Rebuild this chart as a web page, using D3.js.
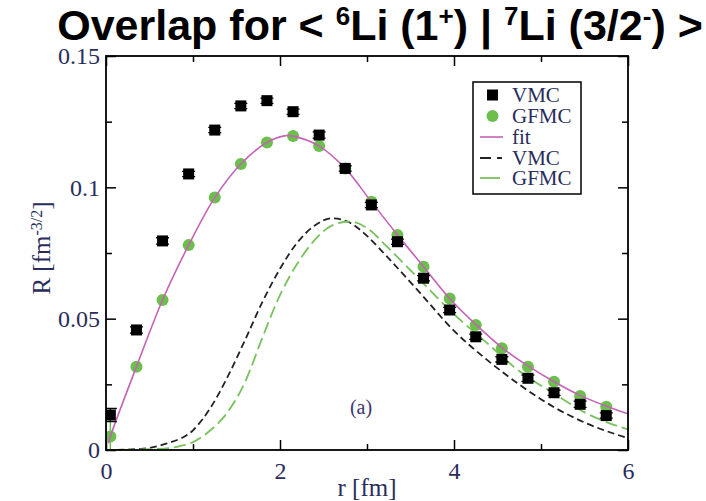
<!DOCTYPE html>
<html>
<head>
<meta charset="utf-8">
<script src="https://cdn.jsdelivr.net/npm/d3@7"></script>
<style>
  body { margin: 0; background: #fff; }
  text { font-family: "Liberation Serif", "DejaVu Serif", serif; }
</style>
</head>
<body>
<script>
// r values (fm) of the sampled points
var rPts = [0.05, 0.35, 0.65, 0.95, 1.25, 1.55, 1.85, 2.15, 2.45, 2.75, 3.05, 3.35, 3.65, 3.95, 4.25, 4.55, 4.85, 5.15, 5.45, 5.75];
var vmcPts = [0.0133, 0.0457, 0.0796, 0.1051, 0.1218, 0.131, 0.133, 0.1288, 0.1199, 0.1072, 0.0933, 0.0793, 0.0654, 0.0533, 0.0431, 0.0345, 0.0273, 0.0218, 0.0174, 0.0131];
var vmcErr = [0.0025, 0.0012, 0.0012, 0.001, 0.001, 0.001, 0.001, 0.001, 0.0012, 0.001, 0.001, 0.001, 0.001, 0.001, 0.001, 0.001, 0.0012, 0.001, 0.0012, 0.001];
var gfmcPts = [0.0051, 0.0317, 0.0571, 0.078, 0.0961, 0.1089, 0.1171, 0.1195, 0.1157, 0.1072, 0.0945, 0.0819, 0.0698, 0.0577, 0.0476, 0.0387, 0.0317, 0.026, 0.0206, 0.0165];
var gfmcErr = [0.0065, 0.0015, 0.001, 0.001, 0.001, 0.001, 0.001, 0.001, 0.001, 0.001, 0.001, 0.001, 0.001, 0.001, 0.001, 0.001, 0.001, 0.001, 0.001, 0.001];

// fit curve
var fitR = [0.03, 0.05, 0.35, 0.65, 0.95, 1.25, 1.55, 1.85, 2.05, 2.15, 2.45, 2.75, 3.05, 3.35, 3.65, 3.95, 4.25, 4.55, 4.85, 5.15, 5.45, 5.75, 6.0];
var fitVal = [0.0025, 0.0051, 0.0317, 0.0571, 0.078, 0.0961, 0.1089, 0.1171, 0.1196, 0.1195, 0.1157, 0.1072, 0.0945, 0.0819, 0.0698, 0.0577, 0.0478, 0.039, 0.032, 0.026, 0.0208, 0.0167, 0.0138];

// dashed curves
var vmcCurveR = [0, 0.4, 0.7, 1.0, 1.2, 1.4, 1.6, 1.8, 2.0, 2.2, 2.4, 2.6, 2.8, 3.0, 3.23, 3.61, 3.99, 4.38, 4.76, 5.14, 5.52, 6.0];
var vmcCurveVal = [0, 0.0004, 0.0025, 0.0075, 0.016, 0.028, 0.042, 0.0565, 0.069, 0.079, 0.0855, 0.0882, 0.0866, 0.0815, 0.0736, 0.0598, 0.0457, 0.0343, 0.0247, 0.0165, 0.0102, 0.0045];
var gfmcCurveR = [0, 0.6, 0.85, 1.0, 1.2, 1.4, 1.6, 1.8, 2.0, 2.2, 2.4, 2.6, 2.8, 3.0, 3.23, 3.61, 3.99, 4.38, 4.76, 5.14, 5.52, 6.0];
var gfmcCurveVal = [0, 0.0004, 0.0015, 0.003, 0.0075, 0.0145, 0.026, 0.043, 0.059, 0.071, 0.08, 0.0855, 0.087, 0.0845, 0.0774, 0.0647, 0.052, 0.0407, 0.0298, 0.0217, 0.014, 0.0078];

var xMajor = [0, 2, 4, 6];
var xMinor = [1, 3, 5];
var yMajor = [0, 0.05, 0.1, 0.15];
var yMinor = [0.025, 0.075, 0.125];
var legendNames = ["VMC", "GFMC", "fit", "VMC", "GFMC"];

var W = 706, H = 501;
var pLeft = 106, pRight = 628, pTop = 56, pBottom = 450;
var labelColor = "#2a2d5c";
var green = "#6cbf4c";
var dgreen = "#78c25e";
var magenta = "#c462b6";

var svg = d3.select("body").append("svg")
    .attr("width", W)
    .attr("height", H);

svg.append("rect").attr("width", W).attr("height", H).attr("fill", "#fff");

var x = d3.scaleLinear().domain([0, 6]).range([pLeft, pRight]);
var y = d3.scaleLinear().domain([0, 0.15]).range([pBottom, pTop]);

// title
var title = svg.append("text")
    .attr("x", 380)
    .attr("y", 40)
    .attr("text-anchor", "middle")
    .style("font-family", "'Liberation Sans', Arial, sans-serif")
    .style("font-weight", "bold")
    .style("font-size", "43px")
    .attr("fill", "#000");
var supShift = "super";
title.append("tspan").text("Overlap for < ");
title.append("tspan").attr("baseline-shift", supShift).style("font-size", "26px").text("6");
title.append("tspan").text("Li (1");
title.append("tspan").attr("baseline-shift", supShift).style("font-size", "26px").text("+");
title.append("tspan").text(") | ");
title.append("tspan").attr("baseline-shift", supShift).style("font-size", "26px").text("7");
title.append("tspan").text("Li (3/2");
title.append("tspan").attr("baseline-shift", supShift).style("font-size", "26px").text("-");
title.append("tspan").text(") >");

// axes: major with labels, minor without, mirrored on top/right
function styleAxis(g) {
    g.select(".domain").remove();
    g.selectAll(".tick line").attr("stroke", "#000").attr("stroke-width", 1.5);
    g.selectAll(".tick text")
        .attr("fill", labelColor)
        .style("font-family", "'Liberation Serif', serif")
        .style("font-size", "24px");
}

svg.append("g")
    .attr("transform", "translate(0," + pBottom + ")")
    .call(d3.axisBottom(x).tickValues(xMajor).tickSize(-10).tickPadding(12).tickFormat(d3.format("d")))
    .call(styleAxis);
svg.append("g")
    .attr("transform", "translate(0," + pBottom + ")")
    .call(d3.axisBottom(x).tickValues(xMinor).tickSize(-6).tickFormat(""))
    .call(styleAxis);
svg.append("g")
    .attr("transform", "translate(0," + pTop + ")")
    .call(d3.axisTop(x).tickValues(xMajor).tickSize(-10).tickFormat(""))
    .call(styleAxis);
svg.append("g")
    .attr("transform", "translate(0," + pTop + ")")
    .call(d3.axisTop(x).tickValues(xMinor).tickSize(-6).tickFormat(""))
    .call(styleAxis);

svg.append("g")
    .attr("transform", "translate(" + pLeft + ",0)")
    .call(d3.axisLeft(y).tickValues(yMajor).tickSize(-10).tickPadding(6).tickFormat(function (d) { return String(d); }))
    .call(styleAxis);
svg.append("g")
    .attr("transform", "translate(" + pLeft + ",0)")
    .call(d3.axisLeft(y).tickValues(yMinor).tickSize(-6).tickFormat(""))
    .call(styleAxis);
svg.append("g")
    .attr("transform", "translate(" + pRight + ",0)")
    .call(d3.axisRight(y).tickValues(yMajor).tickSize(-10).tickFormat(""))
    .call(styleAxis);
svg.append("g")
    .attr("transform", "translate(" + pRight + ",0)")
    .call(d3.axisRight(y).tickValues(yMinor).tickSize(-6).tickFormat(""))
    .call(styleAxis);

// axis titles
svg.append("text")
    .attr("x", 367)
    .attr("y", 496)
    .attr("text-anchor", "middle")
    .attr("fill", labelColor)
    .style("font-size", "25px")
    .text("r [fm]");

var ylab = svg.append("text")
    .attr("transform", "translate(50,248) rotate(-90)")
    .attr("text-anchor", "middle")
    .attr("fill", labelColor)
    .style("font-size", "25px");
ylab.append("tspan").text("R [fm");
ylab.append("tspan").attr("baseline-shift", "super").style("font-size", "16px").text("-3/2");
ylab.append("tspan").text("]");

svg.append("defs").append("clipPath").attr("id", "plotclip")
    .append("rect")
    .attr("x", pLeft).attr("y", pTop)
    .attr("width", pRight - pLeft).attr("height", pBottom - pTop);

var plot = svg.append("g").attr("clip-path", "url(#plotclip)");

var line = d3.line()
    .x(function (d) { return x(d[0]); })
    .y(function (d) { return y(d[1]); })
    .curve(d3.curveMonotoneX);

plot.append("path")
    .datum(d3.zip(vmcCurveR, vmcCurveVal))
    .attr("fill", "none")
    .attr("stroke", "#222")
    .attr("stroke-width", 1.8)
    .attr("stroke-dasharray", "7,4")
    .attr("d", line);

plot.append("path")
    .datum(d3.zip(gfmcCurveR, gfmcCurveVal))
    .attr("fill", "none")
    .attr("stroke", dgreen)
    .attr("stroke-width", 1.8)
    .attr("stroke-dasharray", "12,5")
    .attr("d", line);

// GFMC points with error bars
var gData = rPts.map(function (r, i) { return { r: r, v: gfmcPts[i], e: gfmcErr[i] }; });
var vData = rPts.map(function (r, i) { return { r: r, v: vmcPts[i], e: vmcErr[i] }; });

var gg = plot.selectAll(".gpt").data(gData).enter().append("g").attr("class", "gpt");
gg.append("line")
    .attr("x1", function (d) { return x(d.r); })
    .attr("x2", function (d) { return x(d.r); })
    .attr("y1", function (d) { return y(d.v - d.e); })
    .attr("y2", function (d) { return y(d.v + d.e); })
    .attr("stroke", green).attr("stroke-width", 1.5);
gg.append("circle")
    .attr("cx", function (d) { return x(d.r); })
    .attr("cy", function (d) { return y(d.v); })
    .attr("r", 6)
    .attr("fill", green);

// fit line drawn over the green circles
plot.append("path")
    .datum(d3.zip(fitR, fitVal))
    .attr("fill", "none")
    .attr("stroke", magenta)
    .attr("stroke-width", 1.6)
    .attr("d", line.curve(d3.curveCatmullRom));

// VMC points with error bars
var vg = plot.selectAll(".vpt").data(vData).enter().append("g").attr("class", "vpt");
vg.append("path")
    .attr("d", function (d) {
        var cx = x(d.r), y1 = y(d.v - d.e), y2 = y(d.v + d.e);
        return "M" + cx + "," + y1 + "V" + y2 +
            "M" + (cx - 6.5) + "," + y1 + "H" + (cx + 6.5) +
            "M" + (cx - 6.5) + "," + y2 + "H" + (cx + 6.5);
    })
    .attr("stroke", "#000").attr("stroke-width", 1.3);
vg.append("rect")
    .attr("x", function (d) { return x(d.r) - 5.5; })
    .attr("y", function (d) { return y(d.v) - 5.5; })
    .attr("width", 11)
    .attr("height", 11)
    .attr("fill", "#000");

// frame
svg.append("rect")
    .attr("x", pLeft).attr("y", pTop)
    .attr("width", pRight - pLeft).attr("height", pBottom - pTop)
    .attr("fill", "none")
    .attr("stroke", "#000")
    .attr("stroke-width", 1.8);

svg.append("text")
    .attr("x", 361)
    .attr("y", 414)
    .attr("text-anchor", "middle")
    .attr("fill", "#3a3670")
    .style("font-size", "20px")
    .text("(a)");

// legend
var leg = svg.append("g");
leg.append("rect")
    .attr("x", 473).attr("y", 82)
    .attr("width", 108).attr("height", 112)
    .attr("fill", "#fff")
    .attr("stroke", "#000")
    .attr("stroke-width", 1.5);
var ly = [95, 116, 137, 158, 178];
legendNames.forEach(function (name, i) {
    leg.append("text")
        .attr("x", 512)
        .attr("y", ly[i] + 7)
        .attr("fill", labelColor)
        .style("font-size", "21px")
        .text(name);
});
leg.append("rect").attr("x", 487).attr("y", ly[0] - 5.5).attr("width", 11).attr("height", 11).attr("fill", "#000");
leg.append("circle").attr("cx", 492.5).attr("cy", ly[1]).attr("r", 6).attr("fill", green);
leg.append("line").attr("x1", 480).attr("x2", 503).attr("y1", ly[2]).attr("y2", ly[2])
    .attr("stroke", magenta).attr("stroke-width", 1.6);
leg.append("line").attr("x1", 480).attr("x2", 502).attr("y1", ly[3]).attr("y2", ly[3])
    .attr("stroke", "#222").attr("stroke-width", 1.8).attr("stroke-dasharray", "11,6");
leg.append("line").attr("x1", 480).attr("x2", 500).attr("y1", ly[4]).attr("y2", ly[4])
    .attr("stroke", dgreen).attr("stroke-width", 1.8);
</script>
</body>
</html>
